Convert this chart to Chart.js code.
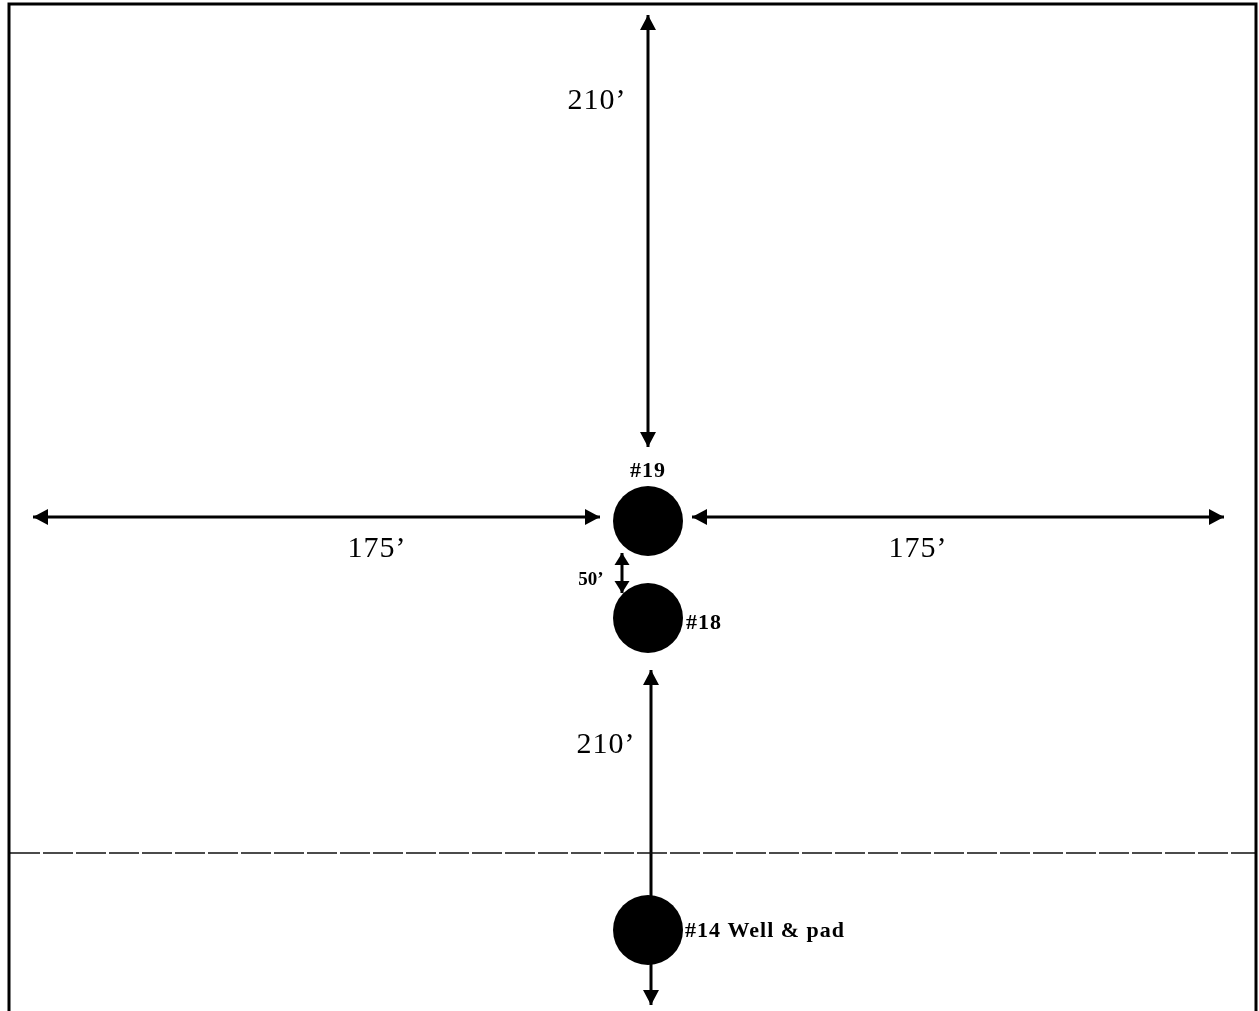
<!DOCTYPE html>
<html>
<head>
<meta charset="utf-8">
<title>Well spacing</title>
<script src="https://cdn.jsdelivr.net/npm/chart.js@4.4.1/dist/chart.umd.min.js"></script>
<style>
  html, body { margin: 0; padding: 0; background: #fff; }
  #wrap { width: 1259px; height: 1011px; position: relative; }
</style>
</head>
<body>
<div id="wrap"><canvas id="siteChart"></canvas></div>
<script>
/* ── DATA (diagram units = drawing grid of the sketch) ─────── */
const wellNames = ['#19', '#18', '#14'];
const wellX     = [648, 648, 648];
const wellY     = [521, 618, 930];

// dimension arrows: start / end of each double arrow
const arrowX1 = [648, 33, 692, 622, 651];
const arrowY1 = [15, 517, 517, 553, 670];
const arrowX2 = [648, 600, 1224, 622, 651];
const arrowY2 = [447, 517, 517, 593, 1005];
const arrowHeads = [[1, 1], [1, 1], [1, 1], [1, 1], [1, 1]];

// dimension labels
const dimLabels = ['210\u2019', '175\u2019', '175\u2019', '50\u2019', '210\u2019'];
const dimLabelX = [597, 377, 918, 591, 606];
const dimLabelY = [101, 549, 549, 580, 745];

// pad boundary (dashed) and sheet frame
const padLineX = [10, 1255];
const padLineY = [853, 853];
const frameX = [9, 9, 1256, 1256];
const frameY = [1011, 4, 4, 1011];

/* ── DATASETS ──────────────────────────────────────────────── */
const datasets = [];

datasets.push({
  label: 'frame',
  data: frameX.map((x, i) => ({ x, y: frameY[i] })),
  showLine: true, borderColor: '#000', borderWidth: 3,
  pointRadius: 0, fill: false
});

datasets.push({
  label: 'pad',
  data: padLineX.map((x, i) => ({ x, y: padLineY[i] })),
  showLine: true, borderColor: '#111', borderWidth: 1.5,
  borderDash: [30, 3], pointRadius: 0, fill: false
});

arrowX1.forEach((x, i) => {
  datasets.push({
    label: 'arrow' + i,
    isArrow: true,
    heads: arrowHeads[i],
    small: i === 3,
    data: [{ x, y: arrowY1[i] }, { x: arrowX2[i], y: arrowY2[i] }],
    showLine: true, borderColor: '#000', borderWidth: 3,
    pointRadius: 0, fill: false
  });
});

datasets.push({
  label: 'wells',
  data: wellX.map((x, i) => ({ x, y: wellY[i], name: wellNames[i] })),
  showLine: false, pointRadius: 35, pointHoverRadius: 35,
  backgroundColor: '#000', borderColor: '#000', borderWidth: 0
});

/* ── PLUGINS ───────────────────────────────────────────────── */
const arrowPlugin = {
  id: 'arrowHeads',
  afterDatasetsDraw(chart) {
    const { ctx, scales: { x, y } } = chart;
    chart.data.datasets.forEach(ds => {
      if (!ds.isArrow) return;
      const p1 = { x: x.getPixelForValue(ds.data[0].x), y: y.getPixelForValue(ds.data[0].y) };
      const p2 = { x: x.getPixelForValue(ds.data[1].x), y: y.getPixelForValue(ds.data[1].y) };
      const len = ds.small ? 12 : 15, half = ds.small ? 7.5 : 8;
      const head = (tip, from) => {
        const a = Math.atan2(tip.y - from.y, tip.x - from.x);
        ctx.beginPath();
        ctx.moveTo(tip.x, tip.y);
        ctx.lineTo(tip.x - len * Math.cos(a) + half * Math.sin(a), tip.y - len * Math.sin(a) - half * Math.cos(a));
        ctx.lineTo(tip.x - len * Math.cos(a) - half * Math.sin(a), tip.y - len * Math.sin(a) + half * Math.cos(a));
        ctx.closePath();
        ctx.fill();
      };
      ctx.save();
      ctx.fillStyle = '#000';
      if (ds.heads[0]) head(p1, p2);
      if (ds.heads[1]) head(p2, p1);
      ctx.restore();
    });
  }
};

const labelPlugin = {
  id: 'sketchLabels',
  afterDatasetsDraw(chart) {
    const { ctx, scales: { x, y } } = chart;
    ctx.save();
    ctx.fillStyle = '#000';
    ctx.textBaseline = 'middle';

    // dimension text
    dimLabels.forEach((t, i) => {
      const small = i === 3;
      ctx.font = small ? 'bold 19px "Liberation Serif"' : '30px "Liberation Serif"';
      ctx.letterSpacing = small ? '0px' : '1px';
      ctx.textAlign = 'center';
      ctx.fillText(t, x.getPixelForValue(dimLabelX[i]), y.getPixelForValue(dimLabelY[i]));
    });

    // well names
    ctx.font = 'bold 22px "Liberation Serif"';
    ctx.letterSpacing = '1px';
    const wx = wellX.map(v => x.getPixelForValue(v));
    const wy = wellY.map(v => y.getPixelForValue(v));
    ctx.textAlign = 'center';
    ctx.fillText(wellNames[0], wx[0], wy[0] - 50);
    ctx.textAlign = 'left';
    ctx.fillText(wellNames[1], wx[1] + 38, wy[1] + 5);
    ctx.fillText(wellNames[2] + ' Well & pad', wx[2] + 37, wy[2] + 1);
    ctx.restore();
  }
};

/* ── CHART ─────────────────────────────────────────────────── */
new Chart(document.getElementById('siteChart'), {
  type: 'scatter',
  data: { datasets },
  options: {
    responsive: true, maintainAspectRatio: false, animation: false,
    layout: { padding: 0, autoPadding: false },
    plugins: { legend: { display: false }, tooltip: { enabled: false } },
    scales: {
      x: { type: 'linear', min: 0, max: 1259, display: false },
      y: { type: 'linear', min: 0, max: 1011, reverse: true, display: false }
    }
  },
  plugins: [arrowPlugin, labelPlugin]
});
</script>
</body>
</html>
